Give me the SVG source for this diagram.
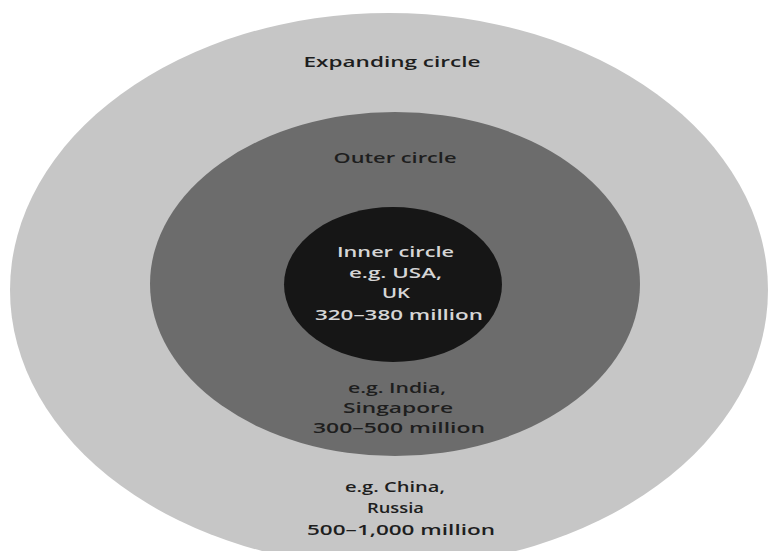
<svg xmlns="http://www.w3.org/2000/svg" width="774" height="551" viewBox="0 0 774 551">
<style>
text{font-family:"Open Sans","Noto Sans","Liberation Sans",sans-serif;font-weight:600;font-size:15px;text-anchor:middle}
.dk{fill:#1e1e1e}
.lt{fill:#d6d6d6}
</style>
<rect width="774" height="551" fill="#ffffff"/>
<g id="expanding-circle">
<ellipse cx="389" cy="290" rx="379" ry="277" fill="#c6c6c6"/>
<text class="dk" x="392" y="67" textLength="177" lengthAdjust="spacingAndGlyphs">Expanding circle</text>
<text class="dk" x="395" y="492" textLength="100" lengthAdjust="spacingAndGlyphs">e.g. China,</text>
<text class="dk" x="395.5" y="513" textLength="57" lengthAdjust="spacingAndGlyphs">Russia</text>
<text class="dk" x="401" y="535" textLength="188" lengthAdjust="spacingAndGlyphs">500–1,000 million</text>
</g>
<g id="outer-circle">
<ellipse cx="395" cy="284" rx="245" ry="172" fill="#6c6c6c"/>
<text class="dk" x="395" y="163" textLength="123" lengthAdjust="spacingAndGlyphs">Outer circle</text>
<text class="dk" x="397" y="393" textLength="98" lengthAdjust="spacingAndGlyphs">e.g. India,</text>
<text class="dk" x="398" y="413" textLength="110" lengthAdjust="spacingAndGlyphs">Singapore</text>
<text class="dk" x="399" y="433" textLength="172" lengthAdjust="spacingAndGlyphs">300–500 million</text>
</g>
<g id="inner-circle">
<ellipse cx="393" cy="284.5" rx="109" ry="77.5" fill="#161616"/>
<text class="lt" x="395.5" y="257" textLength="117" lengthAdjust="spacingAndGlyphs">Inner circle</text>
<text class="lt" x="395.5" y="278" textLength="93" lengthAdjust="spacingAndGlyphs">e.g. USA,</text>
<text class="lt" x="396" y="298" textLength="28" lengthAdjust="spacingAndGlyphs">UK</text>
<text class="lt" x="399" y="320" textLength="168" lengthAdjust="spacingAndGlyphs">320–380 million</text>
</g>
</svg>
